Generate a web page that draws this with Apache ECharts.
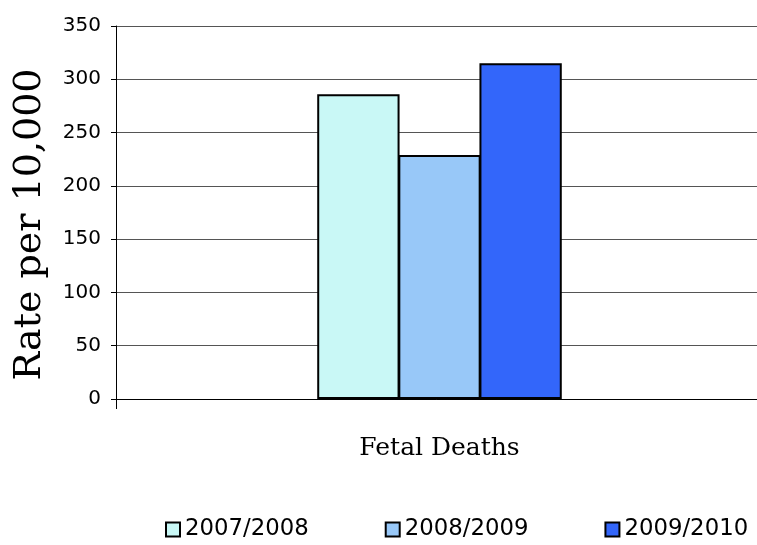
<!DOCTYPE html>
<html>
<head>
<meta charset="utf-8">
<script src="https://cdn.jsdelivr.net/npm/echarts@6/dist/echarts.min.js"></script>
<style>
  html, body { margin: 0; padding: 0; background: #fff; overflow: hidden; }
  #chart { width: 757px; height: 545px; }
</style>
</head>
<body>
<div id="chart"></div>
<script>
// Fetal death rates per 10,000 by reporting period
const categories = ['Fetal Deaths'];
const seriesNames = ['2007/2008', '2008/2009', '2009/2010'];
const rates2007 = [286];
const rates2008 = [229];
const rates2009 = [315];
const seriesColors = ['#C9F8F6', '#98C8F8', '#3366FA'];
const yTicks = { min: 0, max: 350, interval: 50 };

const seriesValues = [rates2007, rates2008, rates2009];

const chart = echarts.init(document.getElementById('chart'), null, { renderer: 'canvas' });

chart.setOption({
  animation: false,
  backgroundColor: '#ffffff',
  // plot runs a little past the right edge so the gridlines reach the border
  grid: {
    left: 116, width: 647, top: 26, bottom: 146,
    containLabel: false,
    outerBoundsMode: 'none'
  },
  legend: {
    data: seriesNames,
    left: 160,
    top: 513,
    itemWidth: 14,
    itemHeight: 14,
    itemGap: 76,
    icon: 'rect',
    textStyle: { fontFamily: 'DejaVu Sans', fontSize: 22.8, color: '#000' }
  },
  xAxis: {
    type: 'category',
    data: categories,
    boundaryGap: true,
    axisLine: { show: true, lineStyle: { color: '#000', width: 1 } },
    axisTick: { show: true, length: 10, lineStyle: { color: '#000' } },
    axisLabel: {
      margin: 37,
      fontFamily: 'DejaVu Serif',
      fontSize: 25,
      color: '#000'
    },
    splitLine: { show: false }
  },
  yAxis: {
    type: 'value',
    min: yTicks.min,
    max: yTicks.max,
    interval: yTicks.interval,
    name: 'Rate per 10,000',
    nameLocation: 'middle',
    nameGap: 67,
    nameRotate: 90,
    nameTextStyle: {
      fontFamily: 'DejaVu Serif',
      fontSize: 38,
      color: '#000',
      padding: [0, 24, 0, 0]
    },
    axisLine: { show: true, lineStyle: { color: '#000', width: 1 } },
    axisTick: { show: true, length: 5, lineStyle: { color: '#000' } },
    axisLabel: {
      margin: 15,
      fontFamily: 'DejaVu Sans',
      fontSize: 20,
      color: '#000'
    },
    splitLine: { show: true, lineStyle: { color: '#555', width: 1 } }
  },
  series: seriesNames.map((name, i) => ({
    name: name,
    type: 'bar',
    data: seriesValues[i],
    barGap: '-1.5%',
    barCategoryGap: '62.2%',
    itemStyle: {
      color: seriesColors[i],
      borderColor: '#000',
      borderWidth: 2
    }
  }))
});
</script>
</body>
</html>
